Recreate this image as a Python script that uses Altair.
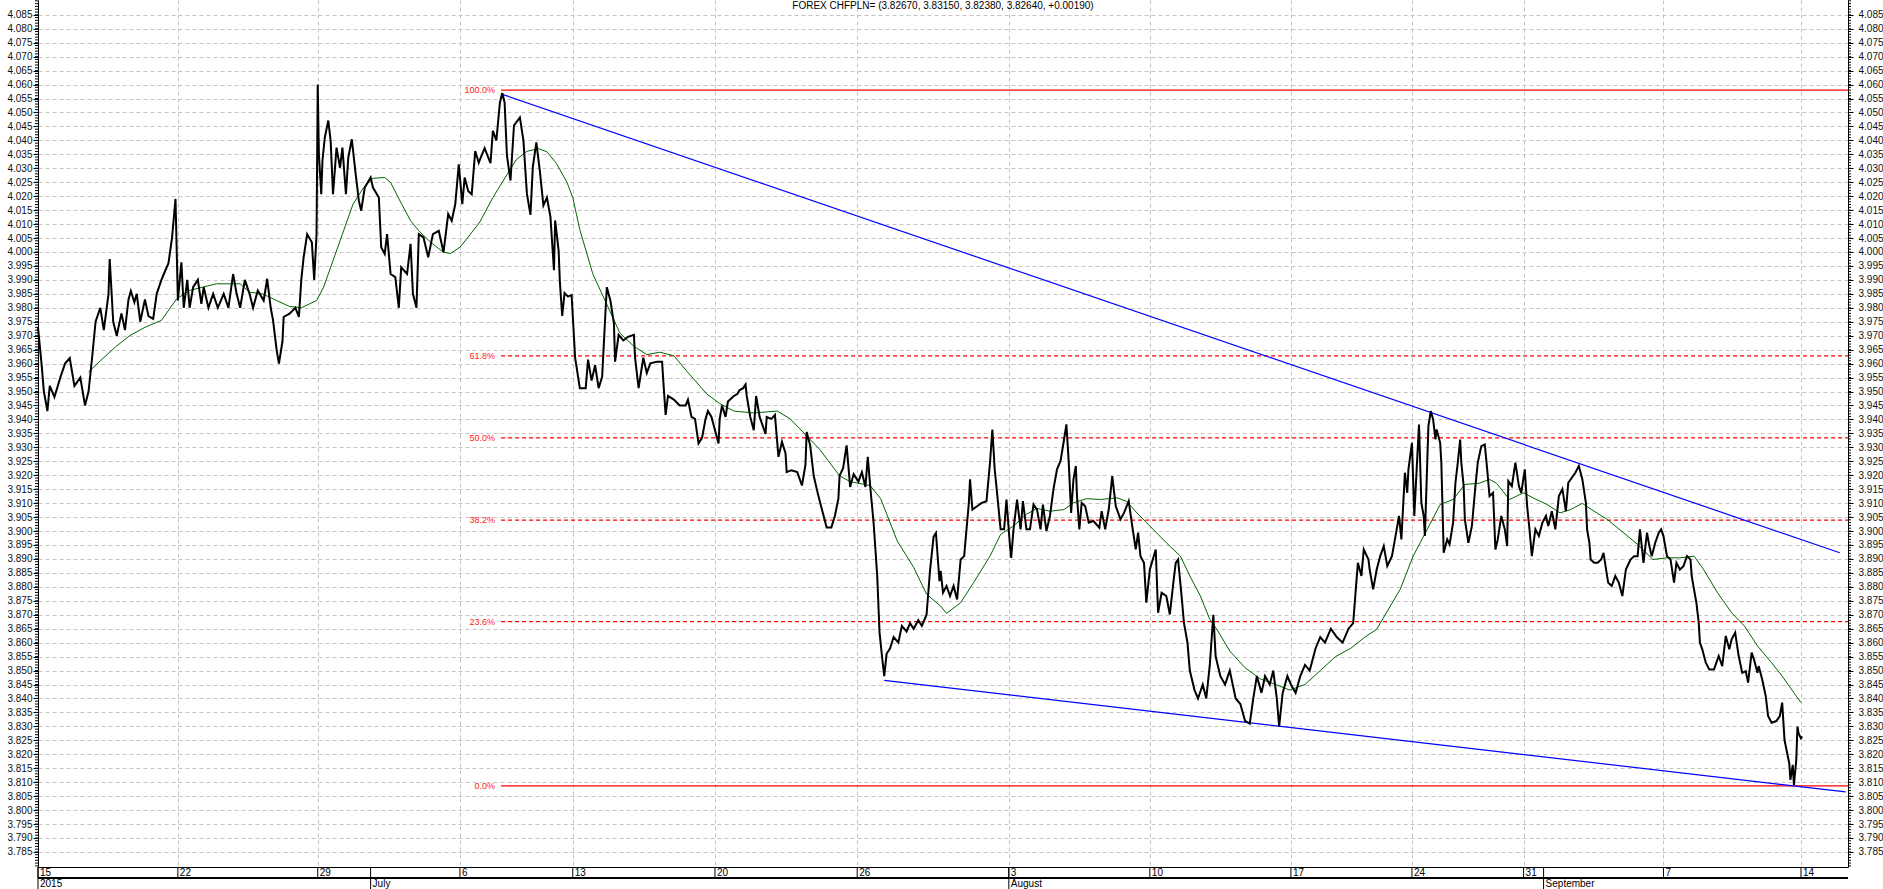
import altair as alt
import pandas as pd

# ---------------- data (x = trading-hour index, y = CHF/PLN) ----------------
seg_a = [(0,3.973),(3,3.960),(5,3.950),(8,3.943),(10,3.952),(14,3.948),(19,3.955),(23,3.960),(27,3.962),
         (31,3.952),(36,3.955),(40,3.945),(43,3.950),(46,3.962),(49,3.975),(53,3.980),(56,3.972),(60,3.985),
         (61,3.9975),(64,3.975),(67,3.970),(71,3.978),(74,3.972),(77,3.983),(79,3.986),(82,3.982),(84,3.985),
         (87,3.975),(91,3.983),(94,3.977),(98,3.976),(101,3.985),(105,3.990),(108,3.993),(111,3.996),
         (114,4.005),(117,4.019)]
seg_b = [(119,3.9826),(122,3.9963),(124,3.980),(127,3.990),(129,3.980),(132,3.9874),(136,3.990),(139,3.9814),
         (141,3.9874),(145,3.980),(149,3.985),(153,3.980),(158,3.985),(162,3.980),(166,3.9921),(169,3.985),
         (172,3.980),(176,3.990),(180,3.985),(183,3.980),(187,3.9862),(192,3.9826),(195,3.9904),(198,3.980),
         (200,3.9755),(203,3.965),(205,3.960),(208,3.968),(209,3.9767),(214,3.9779),(219,3.980),(222,3.9767),
         (224,3.990),(226,3.9981),(229,4.0064),(233,4.0035),(235,3.990),(237,4.0064),(238,4.060),(239,4.035),
         (241,4.0207),(242,4.0326),(244,4.041),(247,4.0471),(249,4.0398),(251,4.0207),(254,4.0374),(257,4.0302),
         (259,4.0374),(262,4.0207),(264,4.0338),(267,4.0404),(270,4.029),(273,4.0183),(275,4.0148),(278,4.0231),
         (283,4.0267),(285,4.0231),(290,4.0195),(292,4.0017),(295,3.9993),(297,4.0064),(300,3.9921),(304,3.991),
         (307,3.980),(309,3.9945),(314,3.9921),(317,4.0029),(319,3.985),(322,3.980),(324,4.0064),(328,4.0052),
         (332,3.9981),(336,4.0064),(341,4.0076),(345,3.9999),(349,4.0136),(352,4.0112),(355,4.0171),(358,4.0314),
         (361,4.0171),(363,4.0267),(366,4.0219),(369,4.0207),(372,4.0362),(375,4.032)]
seg_c = [(376,4.0331),(380,4.0372),(385,4.0318),(387,4.0434),(390,4.040),(393,4.0536),(395,4.057),(397,4.0536),
         (399,4.0345),(402,4.0256),(405,4.0454),(410,4.0482),(413,4.040),(416,4.0208),(419,4.0133),(421,4.0304),
         (424,4.0393),(427,4.029),(430,4.0167),(433,4.0195),(436,4.0126),(439,3.9935),(440,4.0113),(443,4.0003),
         (444,3.9894),(446,3.9771),(448,3.9853),(451,3.984),(454,3.9846),(457,3.9621),(458,3.9594),(461,3.9512),
         (466,3.9512),(468,3.9614),(471,3.9539),(474,3.9594),(477,3.9512),(480,3.9553),(483,3.9799),(484,3.9874),
         (487,3.9826),(490,3.9744),(491,3.9607),(494,3.9703),(498,3.9683),(502,3.9696),(507,3.9703),(508,3.9621),
         (511,3.9512),(515,3.9621),(518,3.9566),(521,3.9601),(527,3.9607),(531,3.9607),(532,3.9539),(534,3.9416),
         (536,3.9484),(541,3.9471),(546,3.945),(551,3.945),(553,3.9471),(556,3.9409),(559,3.9402),(562,3.9314),
         (565,3.9334),(568,3.9402),(570,3.943),(573,3.9409),(576,3.9361),(579,3.9314),(580,3.9402),(582,3.945),
         (585,3.9409),(587,3.9464),(592,3.9484),(595,3.9491),(597,3.9505),(600,3.9512),(602,3.9525),(603,3.9484),
         (606,3.9409),(609,3.9361),(611,3.9484),(614,3.9409),(619,3.9348),(620,3.9409),(624,3.9402),(627,3.9416),
         (630,3.9266),(633,3.932),(636,3.9279),(637,3.9211),(641,3.9218),(646,3.9211),(650,3.9163),(653,3.9238),
         (654,3.9355),(657,3.9307),(660,3.9198),(663,3.9143),(665,3.9109),(668,3.9061),(671,3.9013),(675,3.9013),
         (678,3.9054),(681,3.9116),(682,3.9198),(685,3.9225),(688,3.9307),(691,3.9158),(694,3.9204),(698,3.9177),
         (701,3.9211),(704,3.9158),(706,3.9266),(708,3.9163),(711,3.9027),(714,3.8842),(716,3.8637),(718,3.8555),
         (720,3.848),(722,3.856),(725,3.858),(728,3.862),(732,3.860),(735,3.866),(739,3.864),(742,3.867),
         (745,3.865),(749,3.868),(752,3.866),(756,3.870),(759,3.886),(762,3.898),(764,3.8993),(767,3.882)]
seg_d = [(768,3.8857),(770,3.8779),(773,3.8803),(776,3.8767),(779,3.8803),(782,3.8755),(785,3.8898),(788,3.891),
         (790,3.9006),(792,3.9101),(793,3.9185),(795,3.9077),(799,3.9089),(803,3.9101),(807,3.9107),(810,3.9245),
         (812,3.9364),(814,3.9221),(816,3.9137),(819,3.9006),(822,3.9006),(824,3.9113),(827,3.8946),(828,3.8904),
         (830,3.9006),(833,3.9113),(836,3.9006),(838,3.9107),(841,3.9006),(844,3.9006),(847,3.9095),(850,3.9077),
         (853,3.9006),(855,3.9095),(858,3.900),(861,3.9054),(864,3.915),(867,3.9221),(870,3.9251),(873,3.9328),
         (875,3.9382),(877,3.9245),(879,3.9065),(881,3.9185),(883,3.9233),(884,3.9125),(886,3.9006),(888,3.9101),
         (891,3.9089),(894,3.903),(898,3.9036),(903,3.9012),(905,3.9071),(908,3.9006),(911,3.9077),(914,3.9197),
         (917,3.9089),(921,3.9042),(924,3.9065),(928,3.9107),(931,3.9018),(934,3.8934),(936,3.8994),(938,3.891),
         (941,3.8886),(943,3.8743),(946,3.8862),(951,3.8934),(953,3.8707),(956,3.8779),(960,3.8767),(963,3.8701),
         (966,3.8815),(968,3.8886),(970,3.8898),(973,3.8767),(975,3.8671)]
seg_e = [(978,3.860),(980,3.850),(984,3.843),(987,3.840),(991,3.845),(994,3.840),(997,3.852),(1000,3.870),
         (1002,3.855),(1006,3.848),(1010,3.845),(1014,3.850),(1019,3.840),(1023,3.838),(1027,3.832),(1031,3.831),
         (1034,3.840),(1037,3.848),(1041,3.842),(1044,3.848),(1048,3.845),(1051,3.850),(1054,3.840),(1056,3.830),
         (1059,3.842),(1063,3.848),(1066,3.845),(1070,3.842),(1074,3.848),(1078,3.852),(1082,3.850),(1087,3.858),
         (1091,3.862),(1095,3.860),(1100,3.865),(1105,3.862),(1110,3.860),(1115,3.865),(1119,3.867),(1121,3.8779),
         (1123,3.8886),(1126,3.8839),(1128,3.8934),(1132,3.8898),(1133,3.8862),(1136,3.8791),(1139,3.8862),
         (1142,3.891),(1145,3.8946),(1148,3.8875),(1152,3.891),(1155,3.8982),(1158,3.9054)]
seg_f = [(1160,3.897),(1163,3.9209),(1165,3.9137),(1166,3.9221),(1169,3.9316),(1171,3.9054),(1173,3.9221),
         (1175,3.9382),(1177,3.9101),(1179,3.9054),(1180,3.8982),(1182,3.9245),(1183,3.9376),(1185,3.943),
         (1187,3.940),(1189,3.9328),(1190,3.9364),(1193,3.9316),(1194,3.9245),(1196,3.8922),(1199,3.897),
         (1201,3.8952),(1204,3.903),(1206,3.9173),(1208,3.9245),(1210,3.9328),(1211,3.9245),(1213,3.9161),
         (1214,3.9042),(1217,3.8958),(1220,3.9018),(1223,3.9161),(1225,3.9245),(1228,3.9304),(1231,3.931),
         (1233,3.9221),(1235,3.9125),(1238,3.9137),(1240,3.8934),(1242,3.897),(1245,3.9054),(1248,3.9006),
         (1250,3.8946),(1251,3.9179),(1254,3.9161),(1257,3.9245),(1260,3.9161),(1262,3.9137),(1265,3.9221),
         (1267,3.9089),(1269,3.9006),(1271,3.891),(1274,3.9006),(1277,3.8982),(1280,3.903),(1283,3.9054),
         (1285,3.9018),(1288,3.9071),(1291,3.9006),(1294,3.9125),(1297,3.915),(1300,3.9071),(1302,3.9173),
         (1305,3.9191),(1308,3.9209),(1311,3.9233),(1314,3.9185),(1317,3.9101),(1318,3.9006),(1320,3.8958),
         (1321,3.8898),(1324,3.8886),(1327,3.8886),(1330,3.8898),(1332,3.8922),(1335,3.8839),(1336,3.8815),
         (1339,3.8803),(1342,3.8839),(1345,3.8815),(1348,3.8767),(1351,3.8862),(1355,3.8898),(1358,3.891),
         (1361,3.891),(1363,3.9006),(1366,3.8886),(1369,3.8994),(1371,3.8946),(1373,3.891),(1376,3.8958),
         (1379,3.8994),(1381,3.9006),(1383,3.8982),(1386,3.891),(1389,3.8898),(1392,3.8815),(1394,3.8886),
         (1397,3.8862),(1400,3.8874),(1403,3.891),(1406,3.8898),(1407,3.8839),(1409,3.8791),(1411,3.8743),
         (1413,3.8671),(1414,3.860),(1416,3.8576),(1419,3.8528),(1422,3.8504),(1426,3.8504),(1430,3.8552),
         (1433,3.8516),(1436,3.8624),(1439,3.8576),(1441,3.8612),(1444,3.8636),(1447,3.8552),(1450,3.8492),
         (1453,3.8498),(1455,3.8457),(1458,3.8564),(1460,3.854),(1463,3.8492),(1464,3.8516),(1467,3.8468),
         (1470,3.8409),(1472,3.8337),(1475,3.8313),(1479,3.8319),(1482,3.8337),(1484,3.8385),(1486,3.8251),
         (1488,3.8209),(1490,3.8168),(1491,3.8108),(1493,3.8162),(1494,3.809),(1496,3.818),(1497,3.8299),
         (1498,3.8275),(1500,3.8257),(1501,3.8264)]

ma = [(43,3.957),(53,3.961),(66,3.966),(78,3.970),(91,3.973),(105,3.9755),(118,3.9832),(129,3.9862),
      (140,3.9874),(152,3.9886),(163,3.9886),(172,3.9886),(180,3.9856),(191,3.985),(203,3.9826),(214,3.9805),
      (224,3.980),(231,3.9814),(237,3.9826),(243,3.9874),(251,3.9969),(260,4.0076),(268,4.0171),(277,4.0231),
      (285,4.0264),(295,4.0267),(300,4.0249),(308,4.0183),(317,4.0112),(324,4.0076),(334,4.0035),(345,3.9999),
      (351,3.9995),(359,4.0017),(368,4.0064),(376,4.0108),(387,4.0195),(399,4.0277),(407,4.0331),(416,4.0361),
      (426,4.037),(433,4.0359),(441,4.0318),(450,4.025),(455,4.0195),(461,4.008),(472,3.9922),(484,3.9812),
      (495,3.971),(507,3.9662),(518,3.9632),(529,3.9641),(541,3.9628),(552,3.9573),(569,3.9491),(580,3.9457),
      (592,3.943),(609,3.9423),(629,3.943),(640,3.9402),(654,3.9341),(665,3.9293),(682,3.9198),(691,3.9177),
      (708,3.9163),(717,3.9116),(731,3.8965),(745,3.887),(756,3.8774),(768,3.8731),(773,3.8705),(785,3.8743),
      (796,3.8815),(810,3.891),(819,3.8988),(830,3.9018),(841,3.906),(850,3.9081),(861,3.9071),(873,3.9077),
      (881,3.9101),(892,3.9116),(904,3.9113),(918,3.9119),(926,3.9107),(935,3.9065),(946,3.9018),(960,3.8958),
      (972,3.891),(980,3.8839),(989,3.8767),(997,3.8683),(1003,3.8648),(1014,3.857),(1027,3.851),(1040,3.847),
      (1053,3.845),(1065,3.843),(1078,3.845),(1091,3.850),(1104,3.855),(1117,3.858),(1129,3.862),(1139,3.8648),
      (1159,3.8791),(1170,3.891),(1182,3.9006),(1193,3.9095),(1204,3.9113),(1214,3.9167),(1226,3.9171),
      (1235,3.9185),(1241,3.9171),(1252,3.9113),(1264,3.9137),(1272,3.9119),(1284,3.9095),(1295,3.9065),
      (1304,3.9077),(1314,3.9099),(1324,3.9071),(1335,3.9042),(1349,3.8994),(1361,3.8952),(1374,3.8898),
      (1386,3.8904),(1397,3.8904),(1409,3.891),(1417,3.8863),(1429,3.8779),(1441,3.8707),(1452,3.8659),
      (1463,3.8588),(1475,3.8528),(1484,3.848),(1494,3.842),(1500,3.8385)]

upper_trend = [(395, 4.0565), (1533, 3.8922)]
lower_trend = [(720, 3.8465), (1538, 3.8065)]

fib_high, fib_low = 4.0580, 3.8087
fib_start = 394
fib_ratios = [1.0, 0.618, 0.5, 0.382, 0.236, 0.0]
fib_labels = ["100.0%", "61.8%", "50.0%", "38.2%", "23.6%", "0.0%"]

week_pos = [0, 119, 238, 359, 455, 576, 697, 826, 946, 1066, 1169, 1264, 1383, 1500]
week_lbl = ["15", "22", "29", "6", "13", "20", "26", "3", "10", "17", "24", "31", "7", "14"]
month_pos = [0, 283, 826, 1281]
month_lbl = ["2015", "July", "August", "September"]

title_text = "FOREX CHFPLN= (3.82670, 3.83150, 3.82380, 3.82640, +0.00190)"

# ---------------- frames ----------------
def frame(pairs):
    return pd.DataFrame(pairs, columns=["t", "v"])

price_df = frame(seg_a + seg_b + seg_c + seg_d + seg_e + seg_f)
ma_df = frame(ma)
up_df = frame(upper_trend)
lo_df = frame(lower_trend)
fib_df = pd.DataFrame({
    "t": [fib_start] * len(fib_ratios),
    "v": [fib_low + r * (fib_high - fib_low) for r in fib_ratios],
    "lbl": fib_labels,
    "solid": [r in (0.0, 1.0) for r in fib_ratios],
})
week_df = pd.DataFrame({"t": week_pos, "lbl": week_lbl})
month_df = pd.DataFrame({"t": month_pos, "lbl": month_lbl})
major = [round(3.785 + 0.005 * i, 3) for i in range(61)]
minor_df = pd.DataFrame({"v": [round(3.780 + 0.001 * i, 3) for i in range(311)]})

W, H = 1810, 867
FONT = "Liberation Sans"
xs = alt.Scale(domain=[0, 1540], nice=False, zero=False)
ys = alt.Scale(domain=[3.7796, 4.0903], nice=False, zero=False)
GRID = "#c4c4c4"

x_axis = alt.Axis(values=week_pos, grid=True, gridDash=[4, 3], gridColor=GRID, gridWidth=1,
                  labels=False, ticks=False, domain=True, domainColor="black", domainWidth=1, title=None)
y_axis = alt.Axis(values=major, format=".3f", grid=True, gridDash=[4, 3], gridColor=GRID, gridWidth=1,
                  tickSize=5, tickColor="black", domainColor="black", labelFont=FONT, labelFontSize=10,
                  labelColor="#111111", labelPadding=1, title=None)

X = lambda: alt.X("t:Q", scale=xs, axis=x_axis)
Y = lambda: alt.Y("v:Q", scale=ys, axis=y_axis)

price = alt.Chart(price_df).mark_line(color="black", strokeWidth=2, interpolate="linear").encode(x=X(), y=Y())
mavg = alt.Chart(ma_df).mark_line(color="#006600", strokeWidth=1).encode(x=X(), y=Y())
up = alt.Chart(up_df).mark_line(color="#0000ff", strokeWidth=1.2).encode(x=X(), y=Y())
lo = alt.Chart(lo_df).mark_line(color="#0000ff", strokeWidth=1.2).encode(x=X(), y=Y())

fib_solid = alt.Chart(fib_df).transform_filter("datum.solid").mark_rule(color="#ff0000", strokeWidth=1.2).encode(
    x=X(), x2=alt.value(W), y=Y())
fib_dash = alt.Chart(fib_df).transform_filter("!datum.solid").mark_rule(
    color="#ff0000", strokeWidth=1.2, strokeDash=[4, 3]).encode(x=X(), x2=alt.value(W), y=Y())
fib_txt = alt.Chart(fib_df).mark_text(color="#ff2020", font=FONT, fontSize=9, align="right",
                                      baseline="middle", dx=-6).encode(x=X(), y=Y(), text="lbl:N")

minor_left = alt.Chart(minor_df).mark_rule(color="black", strokeWidth=1).encode(
    y=Y(), x=alt.value(-3), x2=alt.value(0))

week_ticks = alt.Chart(week_df).mark_rule(color="black", strokeWidth=1).encode(
    x=X(), y=alt.value(H), y2=alt.value(H + 11))
week_txt = alt.Chart(week_df).mark_text(font=FONT, fontSize=10, align="left", baseline="top", dx=2,
                                        color="black").encode(x=X(), y=alt.value(H + 1), text="lbl:N")
month_ticks = alt.Chart(month_df).mark_rule(color="black", strokeWidth=1).encode(
    x=X(), y=alt.value(H), y2=alt.value(H + 22))
month_txt = alt.Chart(month_df).mark_text(font=FONT, fontSize=10, align="left", baseline="top", dx=2,
                                          color="black").encode(x=X(), y=alt.value(H + 12), text="lbl:N")
row_line = alt.Chart(week_df).mark_rule(color="black", strokeWidth=1).encode(
    x=alt.value(0), x2=alt.value(W), y=alt.value(H + 11))
title = alt.Chart(week_df.head(1)).mark_text(font=FONT, fontSize=10, align="center", baseline="top",
                                             color="black").encode(
    x=alt.value(W / 2), y=alt.value(1), text=alt.value(title_text))

main = alt.layer(minor_left, fib_solid, fib_dash, fib_txt, up, lo, mavg, price,
                 week_ticks, month_ticks, row_line, week_txt, month_txt, title)

right_axis = alt.Chart(minor_df).mark_rule(color="black", strokeWidth=1).encode(
    y=alt.Y("v:Q", scale=ys, axis=alt.Axis(orient="right", values=major, format=".3f", grid=False,
                                           tickSize=5, tickColor="black", domainColor="black",
                                           labelFont=FONT, labelFontSize=10, labelColor="#111111",
                                           labelPadding=5, title=None)),
    x=alt.value(W), x2=alt.value(W + 3))

chart = alt.layer(main, right_axis).resolve_scale(y="independent").properties(
    width=W, height=H, autosize=alt.AutoSizeParams(type="none"),
    padding={"left": 38, "top": 0, "right": 35, "bottom": 22},
    background="white",
).configure_view(stroke=None)

chart.save("out.html", embed_options={"renderer": "svg", "actions": False})
